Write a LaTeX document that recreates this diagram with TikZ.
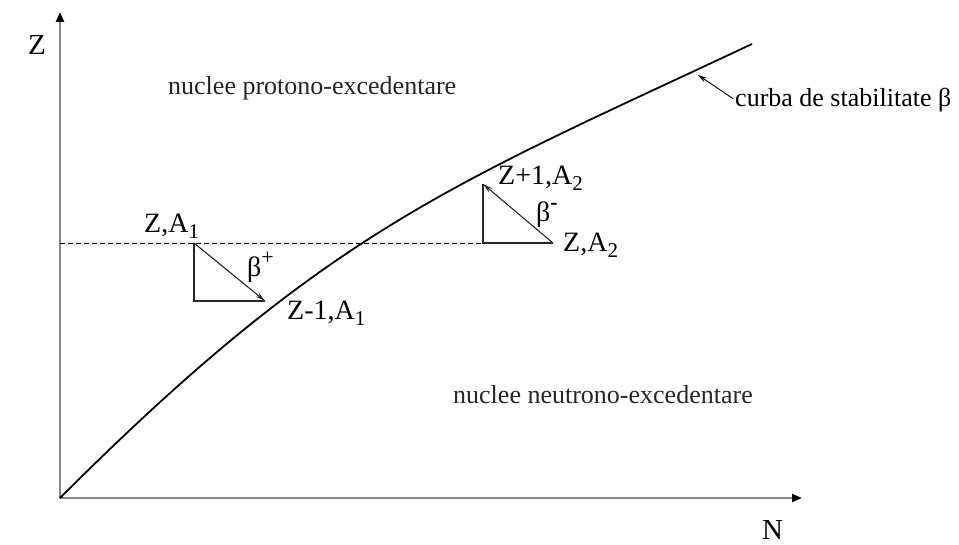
\documentclass[tikz,border=0pt]{standalone}
\usepackage{fontspec}
\setmainfont{Liberation Serif}
\usetikzlibrary{arrows.meta,positioning,calc}
\newcommand{\lowidx}[1]{\raisebox{-0.2em}{\fontsize{21}{23}\selectfont #1}}
\newcommand{\highidx}[1]{\raisebox{0.45em}{\fontsize{22}{24}\selectfont #1}}
\tikzset{
	axis/.style={draw=gray!95, line width=2.4pt, -{Triangle[length=10pt,width=8pt,color=black]}},
	decay/.style={-{Stealth[length=10pt,width=5pt]}, line width=1.1pt, draw=black!85},
	leg/.style={line width=1.1pt, draw=black!85},
	lbl/.style={font=\fontsize{26}{30}\selectfont, inner sep=0pt, anchor=base west},
	nuclid/.style={lbl, font=\fontsize{28}{32}\selectfont},
	region/.style={font=\fontsize{26}{30}\selectfont, inner sep=0pt, anchor=base west, text=black!85}
}
\begin{document}
\begin{tikzpicture}[x=1pt, y=-1pt]
	\useasboundingbox (0,0) rectangle (959,545);
	
	%% ── Axes ────────────────────────────────────────────────────────
	\coordinate (origin) at (60,498);
	\coordinate (ytop) at (60,12);
	\coordinate (xend) at (802,498);
	\draw[axis] (origin) -- (ytop);
	\draw[axis] (origin) -- (xend);
	\node[lbl, font=\fontsize{29}{32}\selectfont] (zlab) at (28,55) {Z};
	\node[lbl, font=\fontsize{29}{32}\selectfont] (nlab) at (762,539) {N};
	
	%% ── Stability curve ─────────────────────────────────────────────
	\coordinate (curveend) at (752,44);
	\draw[line width=1.8pt] (origin) .. controls (330,228) and (452,185) .. (curveend);
	
	\node[lbl] (curba) at (735,107) {curba de stabilitate β};
	\coordinate (leadtip) at (698,75);
	\draw[-{Stealth[length=9pt,width=5pt]}, line width=0.9pt] ([xshift=-2pt,yshift=2pt]curba.west) -- (leadtip);
	
	%% ── Regions ─────────────────────────────────────────────────────
	\node[region] (proton) at (168,95) {nuclee protono-excedentare};
	\node[region] (neutron) at (453,403) {nuclee neutrono-excedentare};
	
	%% ── Reference level (dashed) ────────────────────────────────────
	\coordinate (dashL) at (60,243);
	\coordinate (b2c) at (483,243);
	\draw[dashed, line width=0.8pt, dash pattern=on 5pt off 3pt] (dashL) -- (b2c);
	
	%% ── beta+ decay ─────────────────────────────────────────────────
	\coordinate (b1a) at (194,243);
	\coordinate (b1c) at (194,301);
	\coordinate (b1b) at (265,301);
	\draw[leg] (b1a) -- (b1c) -- (b1b);
	\draw[decay] (b1a) -- (b1b);
	\node[nuclid] (za1) at (144,233) {Z,A\lowidx{1}};
	\node[nuclid] (bplus) at (247,277) {β\highidx{+}};
	\node[nuclid] (zm1) at (287,320) {Z-1,A\lowidx{1}};
	
	%% ── beta- decay ─────────────────────────────────────────────────
	\coordinate (b2a) at (553,243);
	\coordinate (b2b) at (483,184);
	\draw[leg] (b2a) -- (b2c) -- (b2b);
	\draw[decay] (b2a) -- (b2b);
	\node[nuclid] (za2) at (563,252) {Z,A\lowidx{2}};
	\node[nuclid] (bminus) at (536,222) {β\highidx{\textbf{-}}};
	\node[nuclid] (zp1) at (498,185) {Z+1,A\lowidx{2}};
\end{tikzpicture}
\end{document}
